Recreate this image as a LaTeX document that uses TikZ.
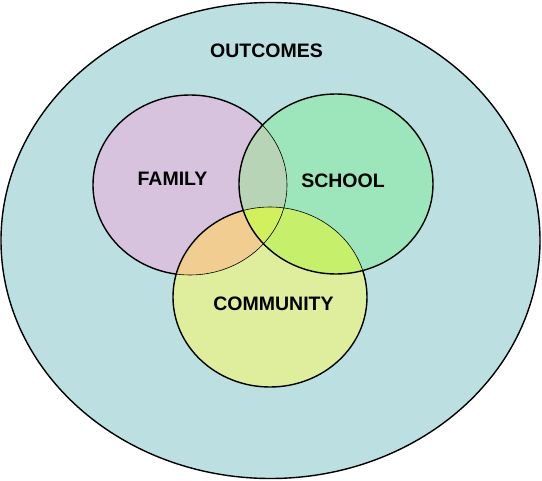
\documentclass[tikz,border=0pt]{standalone}
\usepackage{fontspec}
\setmainfont{Liberation Sans}
\usepackage{tikz}

\definecolor{outcomesfill}{HTML}{BCE0E1}
\definecolor{familyfill}{HTML}{D8C3DE}
\definecolor{schoolfill}{HTML}{9DE6BB}
\definecolor{communityfill}{HTML}{DEEE9C}
\definecolor{famcomfill}{HTML}{F2CD92}
\definecolor{famschfill}{HTML}{B7D5B6}
\definecolor{schcomfill}{HTML}{C6F06C}
\definecolor{triplefill}{HTML}{D2EF5E}

\def\familypath{(190,185) ellipse [x radius=97, y radius=90]}
\def\schoolpath{(336,184) ellipse [x radius=97, y radius=90]}
\def\communitypath{(270,297) ellipse [x radius=97, y radius=90]}

\begin{document}
\begin{tikzpicture}[x=1pt,y=-1pt,
    rim/.style={draw=black, line width=1.4pt},
    seam/.style={draw=black, line width=0.6pt},
    setname/.style={font=\fontsize{19.5}{23}\selectfont\bfseries}]
    \useasboundingbox (0,0) rectangle (542,481);
    % outer set
    \fill[outcomesfill] (270.5,240.5) ellipse [x radius=269.5, y radius=238];
    \draw[rim] (270.5,240.5) ellipse [x radius=269.5, y radius=238];
    % family
    \fill[familyfill] \familypath;
    \draw[rim] \familypath;
    % community over family
    \fill[communityfill] \communitypath;
    \begin{scope}
        \clip \familypath;
        \fill[famcomfill] \communitypath;
    \end{scope}
    \begin{scope}
        \clip \communitypath;
        \draw[seam] \familypath;
    \end{scope}
    \draw[rim] \communitypath;
    % school over both
    \fill[schoolfill] \schoolpath;
    \begin{scope}
        \clip \familypath;
        \fill[famschfill] \schoolpath;
    \end{scope}
    \begin{scope}
        \clip \communitypath;
        \fill[schcomfill] \schoolpath;
    \end{scope}
    \begin{scope}
        \clip \familypath;
        \clip \communitypath;
        \fill[triplefill] \schoolpath;
    \end{scope}
    \begin{scope}
        \clip \schoolpath;
        \draw[seam] \familypath;
        \draw[seam] \communitypath;
    \end{scope}
    \draw[rim] \schoolpath;
    % names
    \node[setname] (outcomes) at (266.5,51) {OUTCOMES};
    \node[setname] (family) at (172.5,179) {FAMILY};
    \node[setname] (school) at (343,181) {SCHOOL};
    \node[setname] (community) at (273.5,304) {COMMUNITY};
\end{tikzpicture}
\end{document}
